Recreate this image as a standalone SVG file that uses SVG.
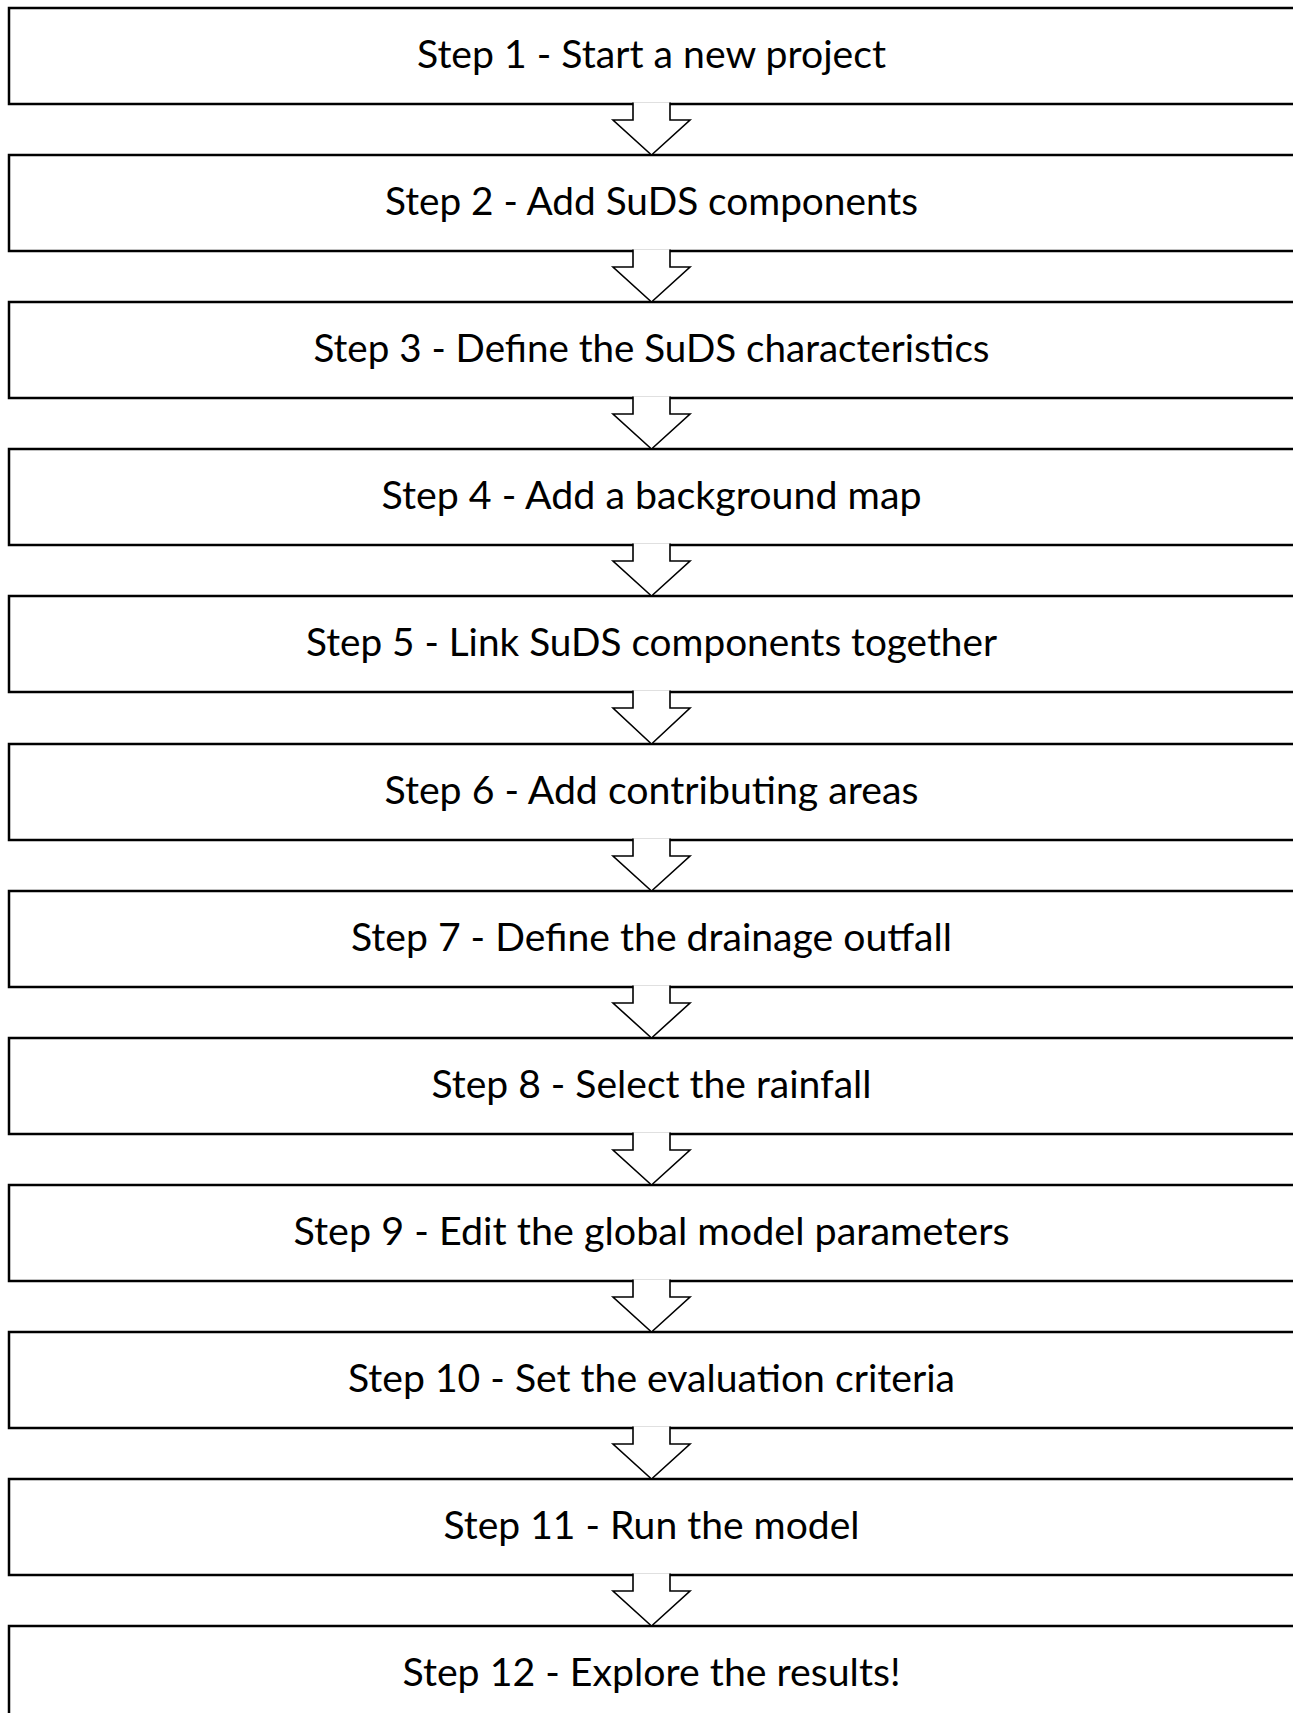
<svg xmlns="http://www.w3.org/2000/svg" width="1293" height="1713" viewBox="0 0 1293 1713">
<style>
.box{fill:#fff;stroke:#000;stroke-width:2.5}
.arr{fill:#fff;stroke:#000;stroke-width:1.6;stroke-linejoin:miter}
.lbl{font-family:Lato,"Liberation Sans",sans-serif;font-size:38.5px;fill:#000;text-anchor:middle}
</style>
<rect width="1293" height="1713" fill="#fff"/>
<g id="nodes">
<g id="step1"><rect class="box" x="9" y="8" width="1300" height="96"/><text class="lbl" x="651.5" y="68" textLength="469" lengthAdjust="spacingAndGlyphs">Step 1 - Start a new project</text></g>
<g id="step2"><rect class="box" x="9" y="155" width="1300" height="96"/><text class="lbl" x="651.5" y="215" textLength="533" lengthAdjust="spacingAndGlyphs">Step 2 - Add SuDS components</text></g>
<g id="step3"><rect class="box" x="9" y="302" width="1300" height="96"/><text class="lbl" x="651.5" y="362" textLength="676" lengthAdjust="spacingAndGlyphs">Step 3 - Define the SuDS characteristics</text></g>
<g id="step4"><rect class="box" x="9" y="449" width="1300" height="96"/><text class="lbl" x="651.5" y="509" textLength="540" lengthAdjust="spacingAndGlyphs">Step 4 - Add a background map</text></g>
<g id="step5"><rect class="box" x="9" y="596" width="1300" height="96"/><text class="lbl" x="651.5" y="656" textLength="691" lengthAdjust="spacingAndGlyphs">Step 5 - Link SuDS components together</text></g>
<g id="step6"><rect class="box" x="9" y="744" width="1300" height="96"/><text class="lbl" x="651.5" y="804" textLength="534" lengthAdjust="spacingAndGlyphs">Step 6 - Add contributing areas</text></g>
<g id="step7"><rect class="box" x="9" y="891" width="1300" height="96"/><text class="lbl" x="651.5" y="951" textLength="601" lengthAdjust="spacingAndGlyphs">Step 7 - Define the drainage outfall</text></g>
<g id="step8"><rect class="box" x="9" y="1038" width="1300" height="96"/><text class="lbl" x="651.5" y="1098" textLength="440" lengthAdjust="spacingAndGlyphs">Step 8 - Select the rainfall</text></g>
<g id="step9"><rect class="box" x="9" y="1185" width="1300" height="96"/><text class="lbl" x="651.5" y="1245" textLength="716" lengthAdjust="spacingAndGlyphs">Step 9 - Edit the global model parameters</text></g>
<g id="step10"><rect class="box" x="9" y="1332" width="1300" height="96"/><text class="lbl" x="651.5" y="1392" textLength="607" lengthAdjust="spacingAndGlyphs">Step 10 - Set the evaluation criteria</text></g>
<g id="step11"><rect class="box" x="9" y="1479" width="1300" height="96"/><text class="lbl" x="651.5" y="1539" textLength="416" lengthAdjust="spacingAndGlyphs">Step 11 - Run the model</text></g>
<g id="step12"><rect class="box" x="9" y="1626" width="1300" height="96"/><text class="lbl" x="651.5" y="1686" textLength="498" lengthAdjust="spacingAndGlyphs">Step 12 - Explore the results!</text></g>
</g>
<g id="connectors">
<path class="arr" d="M633,102.5 V120 H613 L651.5,155 L690,120 H670 V102.5"/>
<path class="arr" d="M633,249.5 V267 H613 L651.5,302 L690,267 H670 V249.5"/>
<path class="arr" d="M633,396.5 V414 H613 L651.5,449 L690,414 H670 V396.5"/>
<path class="arr" d="M633,543.5 V561 H613 L651.5,596 L690,561 H670 V543.5"/>
<path class="arr" d="M633,690.5 V708 H613 L651.5,744 L690,708 H670 V690.5"/>
<path class="arr" d="M633,838.5 V856 H613 L651.5,891 L690,856 H670 V838.5"/>
<path class="arr" d="M633,985.5 V1003 H613 L651.5,1038 L690,1003 H670 V985.5"/>
<path class="arr" d="M633,1132.5 V1150 H613 L651.5,1185 L690,1150 H670 V1132.5"/>
<path class="arr" d="M633,1279.5 V1297 H613 L651.5,1332 L690,1297 H670 V1279.5"/>
<path class="arr" d="M633,1426.5 V1444 H613 L651.5,1479 L690,1444 H670 V1426.5"/>
<path class="arr" d="M633,1573.5 V1591 H613 L651.5,1626 L690,1591 H670 V1573.5"/>
</g>
</svg>
